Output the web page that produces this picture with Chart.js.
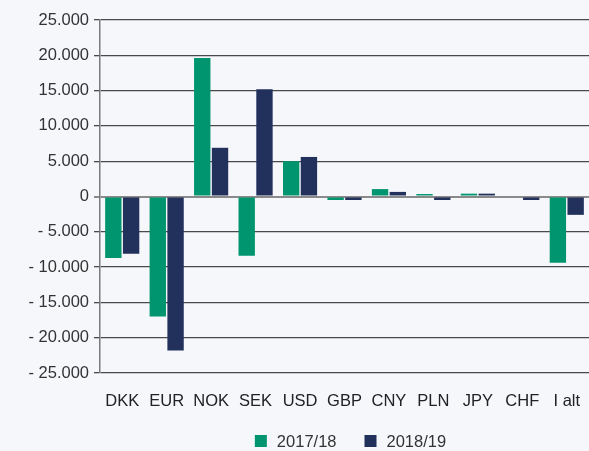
<!DOCTYPE html>
<html><head><meta charset="utf-8">
<script src="https://cdn.jsdelivr.net/npm/chart.js@4/dist/chart.umd.min.js"></script>
<style>html,body{margin:0;padding:0;background:#f5f7fb;}#w{width:589px;height:451px;}</style>
</head><body><div id="w"><canvas id="c" width="589" height="451"></canvas></div>
<script>
const categories = ["DKK","EUR","NOK","SEK","USD","GBP","CNY","PLN","JPY","CHF","I alt"];
const series2017 = [-8700,-17000,19600,-8400,5000,-500,1050,350,400,0,-9400];
const series2018 = [-8100,-21800,6900,15200,5600,-500,650,-500,400,-500,-2600];
const seriesNames = ["2017/18","2018/19"];
const yTicks = [-25000,-20000,-15000,-10000,-5000,0,5000,10000,15000,20000,25000];

function fmt(v){
  const a = Math.abs(v).toString().replace(/\B(?=(\d{3})+(?!\d))/g,".");
  return v < 0 ? "- " + a : a;
}
const FONT = 'Liberation Sans, Arial, Helvetica, sans-serif';

const bottomLegend = {
  id: 'bottomLegend',
  afterDraw(chart) {
    const ctx = chart.ctx;
    const ds = chart.data.datasets;
    ctx.save();
    ctx.font = '16.5px ' + FONT;
    ctx.textBaseline = 'middle';
    const box = 12, gapText = 10, gapItem = 28;
    const widths = ds.map(d => box + gapText + ctx.measureText(d.label).width);
    const total = widths.reduce((a, b) => a + b, 0) + gapItem * (ds.length - 1);
    const cx = (chart.chartArea.left + chart.chartArea.right) / 2 + 6;
    let x = cx - total / 2;
    const y = 441;
    ds.forEach((d, i) => {
      ctx.fillStyle = d.backgroundColor;
      ctx.fillRect(x, y - box / 2, box, box);
      ctx.fillStyle = '#333';
      ctx.fillText(d.label, x + box + gapText, y + 1);
      x += widths[i] + gapItem;
    });
    ctx.restore();
  }
};

new Chart(document.getElementById('c'), {
  type: 'bar',
  data: {
    labels: categories,
    datasets: [
      {label: seriesNames[0], data: series2017, backgroundColor: '#00956e', categoryPercentage: 0.8, barPercentage: 0.92},
      {label: seriesNames[1], data: series2018, backgroundColor: '#22305c', categoryPercentage: 0.8, barPercentage: 0.92}
    ]
  },
  plugins: [bottomLegend],
  options: {
    responsive: false, animation: false,
    layout: {padding: {top: 20, right: 0, left: 0, bottom: 38}},
    plugins: {
      tooltip: {enabled: false},
      legend: {display: false}
    },
    scales: {
      x: {
        grid: {display: true, color: 'rgba(0,0,0,0)', drawOnChartArea: false, drawTicks: true, tickLength: 19},
        border: {display: false},
        afterFit: (ax) => { ax.height = 40; },
        ticks: {color: '#222', padding: 0, font: {family: FONT, size: 16.5}}
      },
      y: {
        min: -25000, max: 25000,
        afterBuildTicks: (ax) => { ax.ticks = yTicks.map(v => ({value: v})); },
        afterFit: (ax) => { ax.width = 100; },
        grid: {
          color: (ctx) => ctx.tick && ctx.tick.value === 0 ? '#8a8a8a' : '#4a4a4a',
          lineWidth: (ctx) => ctx.tick && ctx.tick.value === 0 ? 2 : 1.3,
          tickLength: 6
        },
        border: {display: true, color: '#7a7a7a', width: 1.5},
        ticks: {color: '#333', padding: 5, callback: (v) => fmt(v), font: {family: FONT, size: 16.5}}
      }
    }
  }
});
</script></body></html>
